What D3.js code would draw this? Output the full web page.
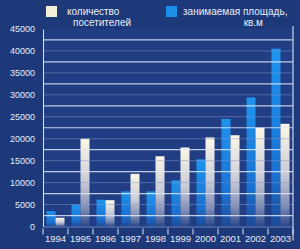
<!DOCTYPE html>
<html>
<head>
<meta charset="utf-8">
<script src="https://cdn.jsdelivr.net/npm/d3@7"></script>
<style>
  body { margin: 0; background: #1d397a; }
  svg text { font-family: "Liberation Sans", Arial, sans-serif; fill: #e8ecf6; }
</style>
</head>
<body>
<div id="chart"></div>
<script>
// данные
const years = ["1994", "1995", "1996", "1997", "1998", "1999", "2000", "2001", "2002", "2003"];
const area = [3500, 5000, 6100, 8000, 8000, 10500, 15300, 24500, 29400, 40500];
const visitors = [2000, 20000, 6000, 12000, 16000, 18000, 20300, 20800, 22500, 23400];
const yTicks = [0, 5000, 10000, 15000, 20000, 25000, 30000, 35000, 40000, 45000];
const midLines = [2500, 7500, 12500, 17500, 22500, 27500, 32500, 37500, 42500];
const legendLabels = [["количество", "посетителей"], ["занимаемая площадь,", "кв.м"]];

const W = 300, H = 249;
const m = { top: 29, right: 7, bottom: 22.5, left: 43 };
const w = W - m.left - m.right;
const h = H - m.top - m.bottom;

const svg = d3.select("#chart").append("svg").attr("width", W).attr("height", H);

const defs = svg.append("defs");
const gw = defs.append("linearGradient").attr("id", "gw").attr("x1", 0).attr("x2", 0).attr("y1", 0).attr("y2", 1);
gw.append("stop").attr("offset", 0).attr("stop-color", "#fdf8e8");
gw.append("stop").attr("offset", 0.5).attr("stop-color", "#c9cbd6");
gw.append("stop").attr("offset", 0.8).attr("stop-color", "#7f8db5");
gw.append("stop").attr("offset", 1).attr("stop-color", "#2a4688");
const gb = defs.append("linearGradient").attr("id", "gb").attr("x1", 0).attr("x2", 0).attr("y1", 0).attr("y2", 1);
gb.append("stop").attr("offset", 0).attr("stop-color", "#1e95ee");
gb.append("stop").attr("offset", 0.7).attr("stop-color", "#1a72d2");
gb.append("stop").attr("offset", 1).attr("stop-color", "#1d4a98");

const g = svg.append("g").attr("transform", `translate(${m.left},${m.top})`);

g.append("rect").attr("width", w).attr("height", h).attr("fill", "#213e84");

const x = d3.scaleBand().domain(years).range([0, w]);
const xs = d3.scaleBand().domain(["area", "visitors"]).range([3.5, x.bandwidth() - 3.5]);
const y = d3.scaleLinear().domain([0, 45000]).range([h, 0]);

// столбцы
g.selectAll(".b-area").data(area).enter().append("rect")
  .attr("x", (d, i) => x(years[i]) + xs("area"))
  .attr("y", d => y(d))
  .attr("width", xs.bandwidth())
  .attr("height", d => h - y(d))
  .attr("fill", "url(#gb)");

g.selectAll(".b-vis").data(visitors).enter().append("rect")
  .attr("x", (d, i) => x(years[i]) + xs("visitors"))
  .attr("y", d => y(d))
  .attr("width", xs.bandwidth())
  .attr("height", d => h - y(d))
  .attr("fill", "url(#gw)");

// линии сетки поверх столбцов
g.selectAll(".grid-major").data(yTicks.slice(1, -1)).enter().append("line")
  .attr("x1", 0).attr("x2", w)
  .attr("y1", d => y(d)).attr("y2", d => y(d))
  .attr("stroke", "#8696c8").attr("stroke-opacity", 0.5).attr("stroke-width", 1);
g.selectAll(".grid-mid").data(midLines).enter().append("line")
  .attr("x1", 0).attr("x2", w)
  .attr("y1", d => y(d)).attr("y2", d => y(d))
  .attr("stroke", "#dfe5f6").attr("stroke-opacity", 0.85).attr("stroke-width", 1.2);

// оси
const yAxis = g.append("g").call(d3.axisLeft(y).tickValues(yTicks).tickFormat(d3.format("d")).tickSize(0).tickPadding(8));
yAxis.select(".domain").attr("stroke", "#dfe5f6");
yAxis.selectAll("text").attr("font-size", 9).attr("fill", "#e8ecf6");

const xAxis = g.append("g").attr("transform", `translate(0,${h})`)
  .call(d3.axisBottom(x).tickSize(0).tickPadding(9));
xAxis.select(".domain").attr("stroke", "#6f82bb");
xAxis.selectAll("text").attr("font-size", 9.5).attr("fill", "#e8ecf6");

g.selectAll(".sep").data(years.concat(["end"])).enter().append("line")
  .attr("x1", (d, i) => i * x.bandwidth()).attr("x2", (d, i) => i * x.bandwidth())
  .attr("y1", h + 2).attr("y2", h + 8)
  .attr("stroke", "#dfe5f6");

g.append("line").attr("x1", w).attr("x2", w).attr("y1", -3).attr("y2", h + 14)
  .attr("stroke", "#c9d2ee").attr("stroke-width", 1.2);

// легенда
const leg = svg.append("g");
const legX = [46, 166];
const legFill = ["#f4efd8", "#1c8fe8"];
leg.selectAll("rect").data(legFill).enter().append("rect")
  .attr("x", (d, i) => legX[i]).attr("y", 6).attr("width", 11).attr("height", 11)
  .attr("fill", d => d);
leg.append("text").attr("x", 67).attr("y", 15).attr("font-size", 10).text(legendLabels[0][0]);
leg.append("text").attr("x", 73).attr("y", 26).attr("font-size", 10).text(legendLabels[0][1]);
leg.append("text").attr("x", 183).attr("y", 15).attr("font-size", 10).text(legendLabels[1][0]);
leg.append("text").attr("x", 263).attr("y", 26).attr("font-size", 10).attr("text-anchor", "end").text(legendLabels[1][1]);
</script>
</body>
</html>
